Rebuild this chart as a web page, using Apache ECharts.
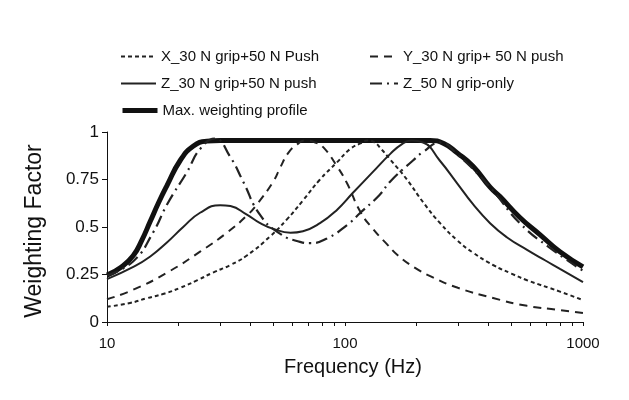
<!DOCTYPE html>
<html>
<head>
<meta charset="utf-8">
<script src="https://cdn.jsdelivr.net/npm/echarts@6/dist/echarts.min.js"></script>
<style>html,body{margin:0;padding:0;background:#fff}#c{width:629px;height:400px}</style>
</head>
<body>
<div id="c"></div>
<script>
// ---- data ----
const seriesNames = ['X_30 N grip+50 N Push','Y_30 N grip+ 50 N push','Z_30 N grip+50 N push','Z_50 N grip-only','Max. weighting profile'];

const xFreq = [10,12.5,14.7,17.5,20.3,24,27.9,33,38.7,48.4,57,66.6,78.5,92.5,105,116,124,133,142,155,182,213,251,296,345,419,500,582,800,1000];
const xVals = [0.08,0.1,0.125,0.15,0.18,0.22,0.26,0.3,0.35,0.45,0.54,0.64,0.75,0.84,0.91,0.94,0.955,0.945,0.91,0.855,0.75,0.63,0.52,0.43,0.365,0.30,0.255,0.22,0.16,0.115];

const yFreq = [10,12.9,17.9,24.6,31.9,38.7,42.7,50,53.3,57.8,63,68,75,81,92.5,102,116,131,150,167,197,234,298,419,582,800,1000];
const yVals = [0.12,0.17,0.26,0.37,0.47,0.56,0.62,0.74,0.81,0.89,0.935,0.955,0.945,0.92,0.82,0.73,0.58,0.49,0.41,0.35,0.285,0.235,0.18,0.126,0.085,0.063,0.047];

const z30Freq = [10,12.9,15.2,17.9,20.9,24.6,29.9,33,38.7,44,50,59,66.6,78.5,92.5,108,131,155,173,190,213,250,296,345,407,480,582,692,800,1000];
const z30Vals = [0.226,0.29,0.345,0.42,0.5,0.575,0.615,0.61,0.565,0.52,0.49,0.47,0.478,0.52,0.59,0.68,0.79,0.885,0.935,0.955,0.945,0.85,0.73,0.62,0.52,0.445,0.38,0.325,0.28,0.21];

const z50Freq = [10,12.9,15.6,17.9,21.7,24.6,28.4,32.9,37.3,43.9,53.3,64.7,71.3,84,102,116,140,155,193,213,251,300,345,419,543,726,1000];
const z50Vals = [0.245,0.32,0.47,0.62,0.79,0.91,0.965,0.87,0.74,0.565,0.465,0.422,0.415,0.44,0.51,0.575,0.67,0.74,0.85,0.895,0.945,0.875,0.805,0.69,0.52,0.39,0.27];

const maxFreq = [10,11.5,12.9,14,15.2,16.5,17.9,20.3,23,26.3,30,60,120,228,260,296,345,407,448,543,659,800,1000];
const maxVals = [0.247,0.29,0.35,0.43,0.53,0.63,0.72,0.85,0.925,0.952,0.955,0.955,0.955,0.955,0.94,0.89,0.82,0.71,0.66,0.55,0.46,0.37,0.29];

const xTickValues = [10,20,30,40,50,60,70,80,90,100,200,300,400,500,600,700,800,900,1000];
const xLabelValues = [10,100,1000];

// ---- chart ----
function pairs(f, v){ return f.map((x,i)=>[x, v[i]]); }
const FONT = 'Liberation Sans, Arial, sans-serif';
const INK = '#111';

const chart = echarts.init(document.getElementById('c'), null, {renderer:'canvas'});
const lineBase = {type:'line', symbol:'none', showSymbol:false, smooth:0.5, animation:false};
const legendCommon = {orient:'vertical', itemHeight:14, itemGap:12,
  itemStyle:{opacity:0, borderWidth:0},
  textStyle:{fontFamily:FONT, fontSize:15, color:INK}};
chart.setOption({
  animation:false,
  backgroundColor:'#fff',
  grid:{left:107, right:46, top:132, bottom:78},
  legend:[
    Object.assign({}, legendCommon, {data:[seriesNames[0],seriesNames[2]], left:115, top:44, itemWidth:35}),
    Object.assign({}, legendCommon, {data:[seriesNames[4]], left:115, top:98, itemWidth:35,
      lineStyle:{width:5}}),
    Object.assign({}, legendCommon, {data:[seriesNames[1],seriesNames[3]], left:364, top:44, itemWidth:28})
  ],
  xAxis:{
    type:'log', logBase:10, min:10, max:1000,
    name:'Frequency (Hz)', nameLocation:'middle', nameGap:35,
    nameTextStyle:{fontFamily:FONT, fontSize:20, color:INK, padding:[0,0,0,16]},
    axisLine:{lineStyle:{color:INK, width:1}},
    axisTick:{show:true, inside:false, length:4, customValues:xTickValues, lineStyle:{color:INK}},
    axisLabel:{customValues:xLabelValues, margin:14, fontFamily:FONT, fontSize:15, color:INK,
      formatter:function(v){return String(v);}},
    splitLine:{show:false}, minorTick:{show:false}
  },
  yAxis:{
    type:'value', min:0, max:1, interval:0.25,
    name:'Weighting Factor', nameLocation:'middle', nameGap:61, nameRotate:90,
    nameTextStyle:{fontFamily:FONT, fontSize:23, color:INK, padding:[0,8,0,0]},
    axisLine:{show:true, lineStyle:{color:INK, width:1}},
    axisTick:{show:true, inside:false, length:5, lineStyle:{color:INK}},
    axisLabel:{margin:8, fontFamily:FONT, fontSize:17, color:INK},
    splitLine:{show:false}
  },
  series:[
    Object.assign({}, lineBase, {name:seriesNames[4], data:pairs(maxFreq,maxVals), z:2,
      lineStyle:{color:'#111', width:5, type:'solid'}, itemStyle:{color:'#111'}}),
    Object.assign({}, lineBase, {name:seriesNames[0], data:pairs(xFreq,xVals), z:3,
      lineStyle:{color:'#222', width:2, type:[4,3]}, itemStyle:{color:'#222'}}),
    Object.assign({}, lineBase, {name:seriesNames[1], data:pairs(yFreq,yVals), z:3,
      lineStyle:{color:'#222', width:2, type:[8,6]}, itemStyle:{color:'#222'}}),
    Object.assign({}, lineBase, {name:seriesNames[2], data:pairs(z30Freq,z30Vals), z:3,
      lineStyle:{color:'#222', width:2, type:'solid'}, itemStyle:{color:'#222'}}),
    Object.assign({}, lineBase, {name:seriesNames[3], data:pairs(z50Freq,z50Vals), z:3,
      lineStyle:{color:'#222', width:2.2, type:[12,5,2,5]}, itemStyle:{color:'#222'}})
  ]
});
</script>
</body>
</html>
